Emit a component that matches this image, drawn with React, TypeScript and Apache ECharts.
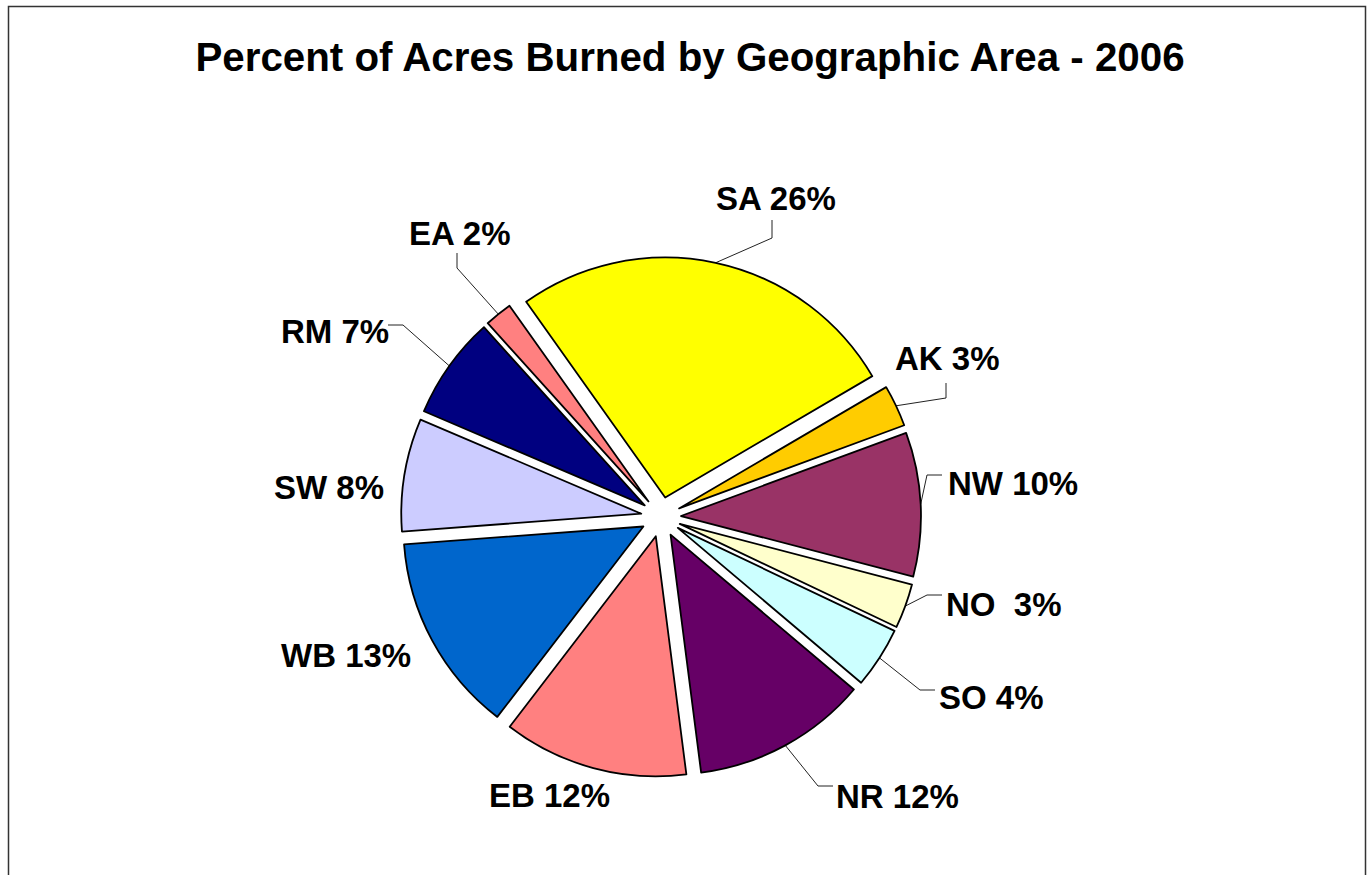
import React, { useEffect, useRef } from "react";
import * as echarts from "echarts";

const regions = ["SA", "AK", "NW", "NO", "SO", "NR", "EB", "WB", "SW", "RM", "EA"];
const percents = [26.4, 2.8, 9.7, 3.0, 4.1, 11.8, 12.45, 13.4, 7.6, 6.9, 1.85];
const colors = ["#FFFF00", "#FFCC00", "#993366", "#FFFFCC", "#CCFFFF", "#660066", "#FF8080", "#0066CC", "#CCCCFF", "#000080", "#FF8080"];

// label layout: left x, middle y, and optional leader-line elbow/end points
const labelPos = [
  { x: 716, y: 198, line: [[772, 238], [772, 220]] },
  { x: 895, y: 358, line: [[946, 398], [946, 383]] },
  { x: 948, y: 483, line: [[927, 475], [942, 475]] },
  { x: 946, y: 604, line: [[927, 595], [942, 595]] },
  { x: 939, y: 697, line: [[920, 690], [935, 690]] },
  { x: 836, y: 796, line: [[818, 786], [833, 786]] },
  { x: 489, y: 795, line: null },
  { x: 281, y: 655, line: null },
  { x: 274, y: 487, line: null },
  { x: 281, y: 331, line: [[403, 325], [388, 325]] },
  { x: 409, y: 233, line: [[457, 268], [457, 253]] },
];

const CX = 661;
const CY = 517;
const RADIUS = 240;
const EXPLODE = 20;
const START_ANGLE = 125.4; // echarts convention (deg, ccw from 3 o'clock)

export default function App() {
  const ref = useRef<HTMLDivElement>(null);
  useEffect(() => {
    const chart = echarts.init(ref.current!, undefined, { renderer: "svg" });
    const total = percents.reduce((a, b) => a + b, 0);
    let acc = 0;
    const mids = percents.map((v) => {
      const m = acc + v / 2;
      acc += v;
      // angle clockwise from 12 o'clock
      return (90 - START_ANGLE) + (m / total) * 360;
    });

    const series = regions.map((_, k) => {
      const rad = (mids[k] * Math.PI) / 180;
      const dx = EXPLODE * Math.sin(rad);
      const dy = -EXPLODE * Math.cos(rad);
      return {
        type: "pie",
        name: regions[k],
        center: [CX + dx, CY + dy],
        radius: RADIUS,
        startAngle: START_ANGLE,
        clockwise: true,
        silent: true,
        avoidLabelOverlap: false,
        emphasis: { disabled: true },
        label: {
          show: true,
          position: "outside",
          fontFamily: "Liberation Sans, Arial",
          fontWeight: "bold",
          fontSize: 33,
          color: "#000",
          formatter: (p: any) => `${p.name}${p.name === "NO" ? "  " : " "}${Math.round(p.percent)}%`,
        },
        labelLine: { show: true, lineStyle: { color: "#222", width: 1 } },
        labelLayout: (params: any) => {
          if (params.dataIndex !== k) return {};
          const L = labelPos[k];
          const res: any = { x: L.x, y: L.y, align: "left", verticalAlign: "middle" };
          if (L.line && params.labelLinePoints) {
            res.labelLinePoints = [params.labelLinePoints[0], L.line[0], L.line[1]];
          }
          return res;
        },
        data: regions.map((r, i) =>
          i === k
            ? {
                name: r,
                value: percents[i],
                itemStyle: { color: colors[i], borderColor: "#000", borderWidth: 1.8 },
                labelLine: { show: labelPos[i].line !== null },
              }
            : {
                name: r,
                value: percents[i],
                itemStyle: { color: "rgba(0,0,0,0)", borderWidth: 0 },
                label: { show: false },
                labelLine: { show: false },
              }
        ),
      };
    });

    chart.setOption({
      animation: false,
      backgroundColor: "#ffffff",
      title: {
        text: "Percent of Acres Burned by Geographic Area - 2006",
        left: 685,
        top: 32,
        textAlign: "center",
        textStyle: { fontFamily: "Liberation Sans, Arial", fontWeight: "bold", fontSize: 40.3, color: "#000" },
      },
      graphic: [
        {
          type: "rect",
          shape: { x: 8.5, y: 6.5, width: 1357, height: 900 },
          style: { fill: "none", stroke: "#333", lineWidth: 1.5 },
          silent: true,
        },
      ],
      series,
    });
    return () => chart.dispose();
  }, []);
  return <div ref={ref} style={{ position: "absolute", left: 0, top: 0, width: 1370, height: 875 }} />;
}
